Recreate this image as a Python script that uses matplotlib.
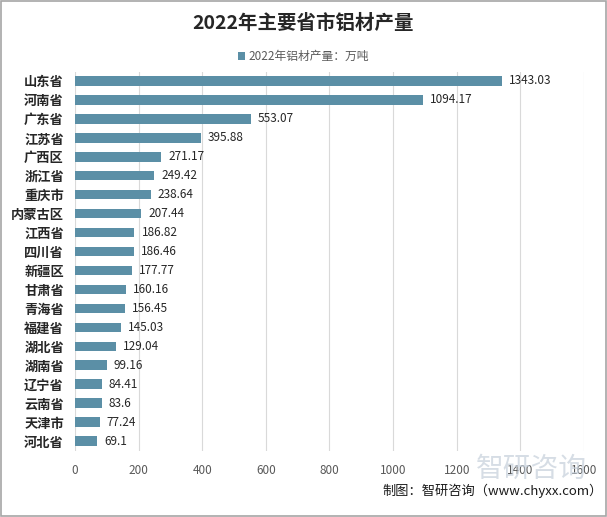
import matplotlib
matplotlib.use("Agg")
import matplotlib.pyplot as plt
from matplotlib.patches import Rectangle

plt.rcParams['font.family'] = ['Noto Sans CJK SC', 'DejaVu Sans']

provinces = ["山东省", "河南省", "广东省", "江苏省", "广西区", "浙江省", "重庆市", "内蒙古区",
             "江西省", "四川省", "新疆区", "甘肃省", "青海省", "福建省", "湖北省", "湖南省",
             "辽宁省", "云南省", "天津市", "河北省"]
output = [1343.03, 1094.17, 553.07, 395.88, 271.17, 249.42, 238.64, 207.44,
          186.82, 186.46, 177.77, 160.16, 156.45, 145.03, 129.04, 99.16,
          84.41, 83.6, 77.24, 69.1]
value_labels = ["1343.03", "1094.17", "553.07", "395.88", "271.17", "249.42", "238.64", "207.44",
                "186.82", "186.46", "177.77", "160.16", "156.45", "145.03", "129.04", "99.16",
                "84.41", "83.6", "77.24", "69.1"]
xticks = [0, 200, 400, 600, 800, 1000, 1200, 1400, 1600]

bar_color = "#5B8FA6"

fig = plt.figure(figsize=(6.07, 5.17), dpi=100)
fig.patches.append(Rectangle((0.002, 0.002), 0.996, 0.996, transform=fig.transFigure,
                             fill=False, edgecolor="#A6A6A6", linewidth=1.2))

ax = fig.add_axes([0.1236, 0.1286, 0.8384, 0.7331])
y = list(range(len(provinces)))
ax.barh(y, output, height=0.5, color=bar_color, label="2022年铝材产量：万吨", zorder=3)
for yi, v, lab in zip(y, output, value_labels):
    ax.text(v + 22, yi, lab, va="center", ha="left", fontsize=8.5, color="#262626")

ax.set_ylim(len(provinces) - 0.5, -0.5)
ax.set_xlim(0, 1600)
ax.set_xticks(xticks)
ax.set_yticks(y)
ax.set_yticklabels(provinces, fontsize=9.5, fontweight="bold", color="#262626")
ax.tick_params(axis="x", labelsize=8.5, labelcolor="#595959", length=0, pad=10)
ax.tick_params(axis="y", length=0, pad=8)
ax.grid(axis="x", color="#D9D9D9", linewidth=0.8, zorder=0)
for s in ax.spines.values():
    s.set_visible(False)

fig.text(0.5, 0.955, "2022年主要省市铝材产量", ha="center", va="center",
         fontsize=14, fontweight="bold", color="#262626")
fig.legend(loc="center", bbox_to_anchor=(0.5, 0.89), frameon=False, fontsize=8.5,
           handlelength=0.6, handleheight=0.6, handletextpad=0.3, labelcolor="#595959")

# faint watermark
fig.text(0.875, 0.094, "智研咨询", ha="center", va="center", fontsize=20,
         color="#C5CFDA", alpha=0.7, zorder=0)
fig.text(0.993, 0.05, "制图：智研咨询（www.chyxx.com）", ha="right", va="center",
         fontsize=9.5, color="#1a1a1a")

fig.savefig("out.png", dpi=100)
